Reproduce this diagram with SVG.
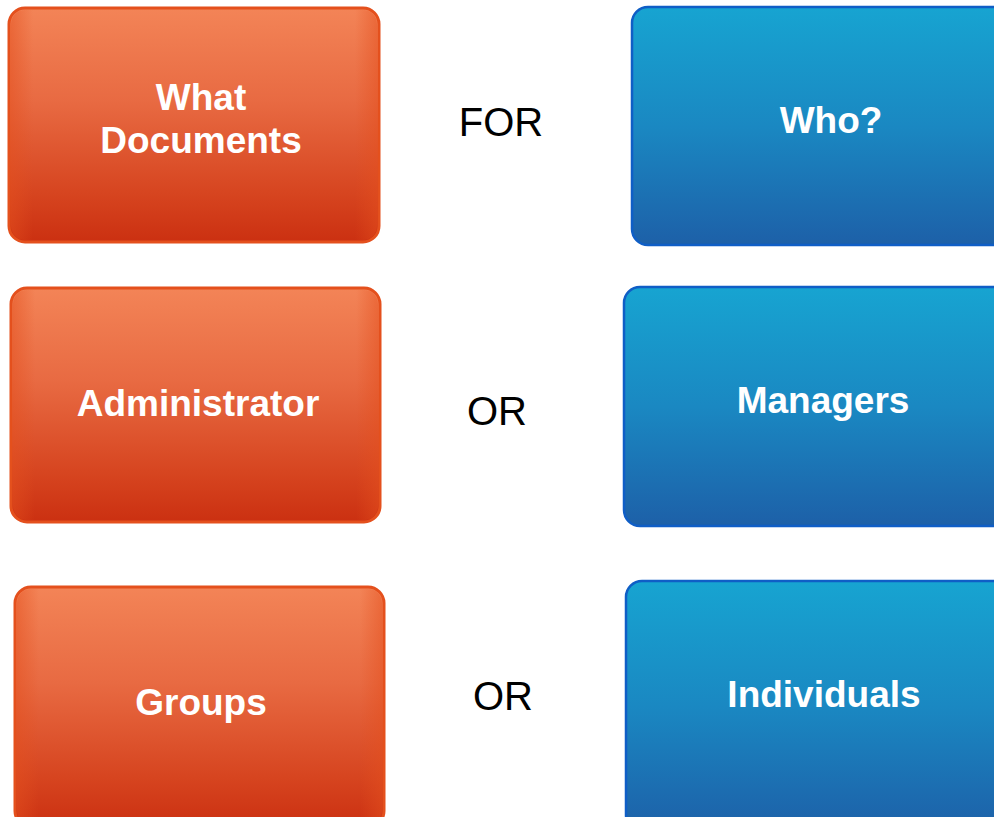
<svg xmlns="http://www.w3.org/2000/svg" width="994" height="817" viewBox="0 0 994 817">
  <defs>
    <linearGradient id="gradOrange" x1="0" y1="0" x2="0" y2="1">
      <stop offset="0" stop-color="#F38457"/>
      <stop offset="0.4" stop-color="#E86A42"/>
      <stop offset="0.8" stop-color="#D6441F"/>
      <stop offset="1" stop-color="#CB3011"/>
    </linearGradient>
    <linearGradient id="gradBlue" x1="0" y1="0" x2="0" y2="1">
      <stop offset="0" stop-color="#17A4D1"/>
      <stop offset="0.5" stop-color="#1A88C2"/>
      <stop offset="1" stop-color="#1D60A8"/>
    </linearGradient>
    <linearGradient id="edgeGlow" x1="0" y1="0" x2="1" y2="0">
      <stop offset="0" stop-color="#E4501E" stop-opacity="0.5"/>
      <stop offset="0.06" stop-color="#E4501E" stop-opacity="0"/>
      <stop offset="0.94" stop-color="#E4501E" stop-opacity="0"/>
      <stop offset="1" stop-color="#E4501E" stop-opacity="0.5"/>
    </linearGradient>
  </defs>
  <style>
    .orange { fill: url(#gradOrange); stroke: #E4501D; stroke-width: 3; }
    .glow { fill: url(#edgeGlow); }
    .blue { fill: url(#gradBlue); stroke: #0F5EC6; stroke-width: 2.5; }
    .label { font-family: "Liberation Sans", Arial, sans-serif; font-weight: bold; font-size: 37px; fill: #FFFFFF; text-anchor: middle; }
    .join { font-family: "Liberation Sans", Arial, sans-serif; font-size: 40px; fill: #000000; text-anchor: middle; }
  </style>
  <rect width="994" height="817" fill="#FFFFFF"/>

  <!-- row 1 -->
  <g id="what-documents">
    <rect class="orange" x="9" y="8" width="370" height="234" rx="16"/>
    <rect class="glow" x="11" y="10" width="366" height="230" rx="14"/>
    <text class="label" x="201" y="110">What</text>
    <text class="label" x="201" y="153">Documents</text>
  </g>
  <g id="who">
    <rect class="blue" x="632" y="7" width="380" height="238" rx="16"/>
    <text class="label" x="831" y="133">Who?</text>
  </g>

  <!-- row 2 -->
  <g id="administrator">
    <rect class="orange" x="11" y="288" width="369" height="234" rx="16"/>
    <rect class="glow" x="13" y="290" width="365" height="230" rx="14"/>
    <text class="label" x="198" y="416">Administrator</text>
  </g>
  <g id="managers">
    <rect class="blue" x="624" y="287" width="388" height="239" rx="16"/>
    <text class="label" x="823" y="413">Managers</text>
  </g>

  <!-- row 3 -->
  <g id="groups">
    <rect class="orange" x="15" y="587" width="369" height="240" rx="16"/>
    <rect class="glow" x="17" y="589" width="365" height="236" rx="14"/>
    <text class="label" x="201" y="715">Groups</text>
  </g>
  <g id="individuals">
    <rect class="blue" x="626" y="581" width="386" height="250" rx="16"/>
    <text class="label" x="824" y="707">Individuals</text>
  </g>

  <!-- joining words between the columns -->
  <g id="connectors">
    <text class="join" x="501" y="136">FOR</text>
    <text class="join" x="497" y="425">OR</text>
    <text class="join" x="503" y="710">OR</text>
  </g>
</svg>
